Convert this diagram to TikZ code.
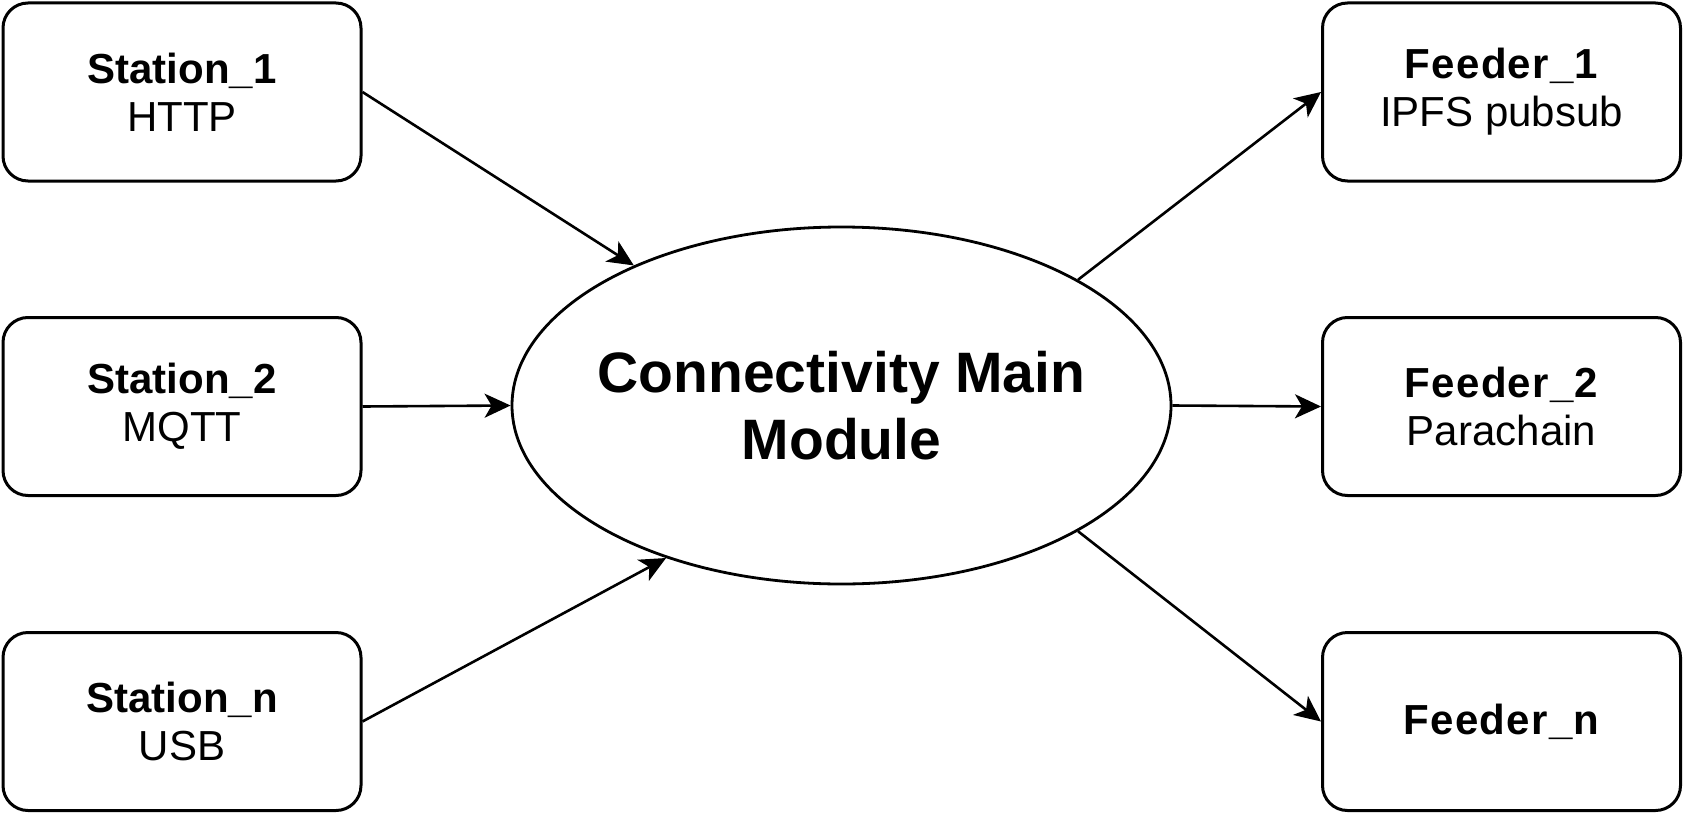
\documentclass[tikz,border=0pt]{standalone}
\usepackage{fontspec}
\setmainfont{Liberation Sans}
\newfontfamily\spacedfont[LetterSpace=3]{Liberation Sans}
\usetikzlibrary{shapes.geometric,arrows.meta}
\tikzset{
  box/.style={draw, line width=3pt, rounded corners=25pt, minimum width=358pt, minimum height=178pt, align=center, inner sep=0pt, font=\fontsize{42}{48}\selectfont},
  hub/.style={ellipse, draw, line width=2.8pt, minimum width=659pt, minimum height=357pt, inner ysep=0pt, inner xsep=-25pt, align=center, font=\fontsize{57}{67}\selectfont\bfseries},
  arr/.style={-{Stealth[length=26pt,width=24pt,inset=7pt]}, line width=2.6pt}
}
\begin{document}
\begin{tikzpicture}[x=1pt,y=1pt]
\useasboundingbox (0,0) rectangle (1683,-816);
\node[box] (s1) at (182,-92) {\textbf{Station\_1}\\HTTP};
\node[box] (s2) at (182,-406.5) {\textbf{Station\_2}\\MQTT};
\node[box] (s3) at (182,-721.5) {\textbf{Station\_n}\\USB};
\node[box] (f1) at (1501.5,-92) {{\spacedfont\bfseries Feeder\_1}\\IPFS pubsub};
\node[box] (f2) at (1501.5,-406.5) {{\spacedfont\bfseries Feeder\_2}\\Parachain};
\node[box] (fn) at (1501.5,-721.5) {{\spacedfont\bfseries Feeder\_n}};
\node[hub] (cmm) at (841.5,-405.5) {Connectivity Main\\Module};
\draw[arr] (s1.east) -- (cmm.146);
\draw[arr] (s2.east) -- (cmm.west);
\draw[arr] (s3.east) -- (cmm.221);
\draw[arr] (cmm.28) -- (f1.west);
\draw[arr] (cmm.east) -- (f2.west);
\draw[arr] (cmm.332) -- (fn.west);
\end{tikzpicture}
\end{document}
